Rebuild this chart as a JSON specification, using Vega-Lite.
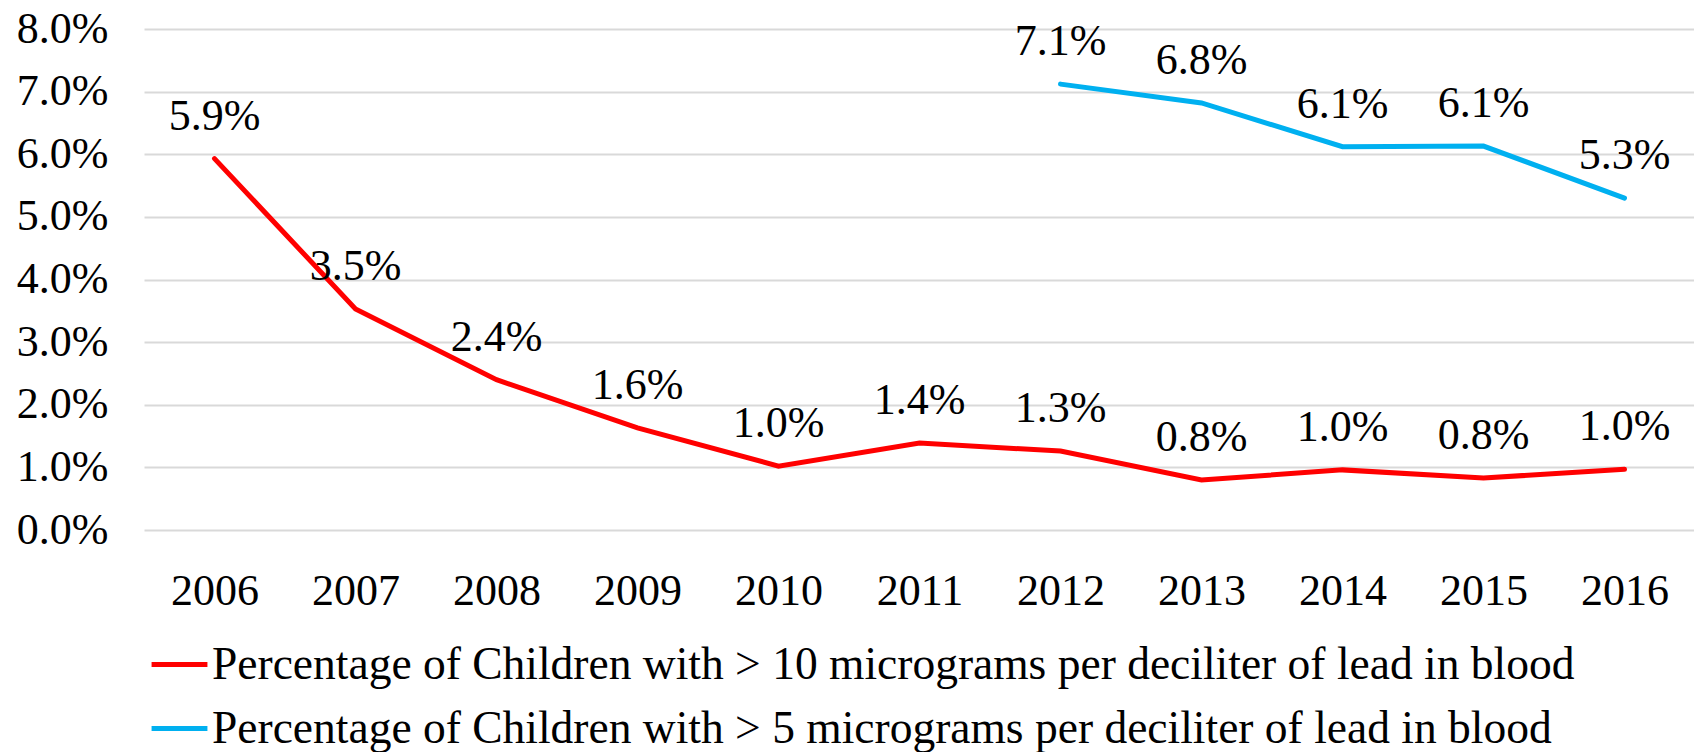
{
  "$schema": "https://vega.github.io/schema/vega-lite/v6.json",
  "width": 1551,
  "height": 501,
  "autosize": {"type": "none"},
  "padding": {"left": 144, "top": 29, "right": 0, "bottom": 222},
  "background": "white",
  "config": {"view": {"stroke": null}, "font": "Liberation Serif"},
  "data": {
    "values": [
      {"year": "2006", "series": "Percentage of Children with > 10 micrograms per deciliter of lead in blood", "value": 0.0593},
      {"year": "2007", "series": "Percentage of Children with > 10 micrograms per deciliter of lead in blood", "value": 0.0353},
      {"year": "2008", "series": "Percentage of Children with > 10 micrograms per deciliter of lead in blood", "value": 0.0240},
      {"year": "2009", "series": "Percentage of Children with > 10 micrograms per deciliter of lead in blood", "value": 0.0163},
      {"year": "2010", "series": "Percentage of Children with > 10 micrograms per deciliter of lead in blood", "value": 0.0102},
      {"year": "2011", "series": "Percentage of Children with > 10 micrograms per deciliter of lead in blood", "value": 0.0139},
      {"year": "2012", "series": "Percentage of Children with > 10 micrograms per deciliter of lead in blood", "value": 0.0126},
      {"year": "2013", "series": "Percentage of Children with > 10 micrograms per deciliter of lead in blood", "value": 0.0080},
      {"year": "2014", "series": "Percentage of Children with > 10 micrograms per deciliter of lead in blood", "value": 0.0096},
      {"year": "2015", "series": "Percentage of Children with > 10 micrograms per deciliter of lead in blood", "value": 0.0083},
      {"year": "2016", "series": "Percentage of Children with > 10 micrograms per deciliter of lead in blood", "value": 0.0097},
      {"year": "2012", "series": "Percentage of Children with > 5 micrograms per deciliter of lead in blood", "value": 0.0712},
      {"year": "2013", "series": "Percentage of Children with > 5 micrograms per deciliter of lead in blood", "value": 0.0682},
      {"year": "2014", "series": "Percentage of Children with > 5 micrograms per deciliter of lead in blood", "value": 0.0612},
      {"year": "2015", "series": "Percentage of Children with > 5 micrograms per deciliter of lead in blood", "value": 0.0613},
      {"year": "2016", "series": "Percentage of Children with > 5 micrograms per deciliter of lead in blood", "value": 0.0530}
    ]
  },
  "encoding": {
    "x": {
      "field": "year",
      "type": "ordinal",
      "scale": {"type": "point", "padding": 0.5},
      "axis": {
        "title": null,
        "labelAngle": 0,
        "ticks": false,
        "domain": false,
        "grid": false,
        "labelFontSize": 44,
        "labelColor": "black",
        "labelBaseline": "middle",
        "labelPadding": 61
      }
    },
    "y": {
      "field": "value",
      "type": "quantitative",
      "scale": {"domain": [0, 0.08], "nice": false},
      "axis": {
        "title": null,
        "values": [0, 0.01, 0.02, 0.03, 0.04, 0.05, 0.06, 0.07, 0.08],
        "format": ".1%",
        "ticks": false,
        "domain": false,
        "gridColor": "#D9D9D9",
        "gridWidth": 2,
        "labelFontSize": 44,
        "labelColor": "black",
        "labelPadding": 36
      }
    },
    "color": {
      "field": "series",
      "type": "nominal",
      "scale": {
        "domain": [
          "Percentage of Children with > 10 micrograms per deciliter of lead in blood",
          "Percentage of Children with > 5 micrograms per deciliter of lead in blood"
        ],
        "range": ["#FF0000", "#00B0F0"]
      },
      "legend": {
        "title": null,
        "orient": "none",
        "legendX": 5,
        "legendY": 605,
        "direction": "vertical",
        "symbolType": "stroke",
        "symbolStrokeWidth": 5,
        "symbolSize": 3120,
        "labelFontSize": 45.5,
        "labelColor": "black",
        "labelOffset": 2,
        "labelLimit": 0,
        "rowPadding": 10
      }
    }
  },
  "layer": [
    {"mark": {"type": "line", "strokeWidth": 5, "strokeCap": "round"}},
    {
      "mark": {"type": "text", "dy": -42, "fontSize": 44, "baseline": "middle"},
      "encoding": {
        "text": {"field": "value", "type": "quantitative", "format": ".1%"},
        "color": {"value": "black"}
      }
    }
  ]
}
